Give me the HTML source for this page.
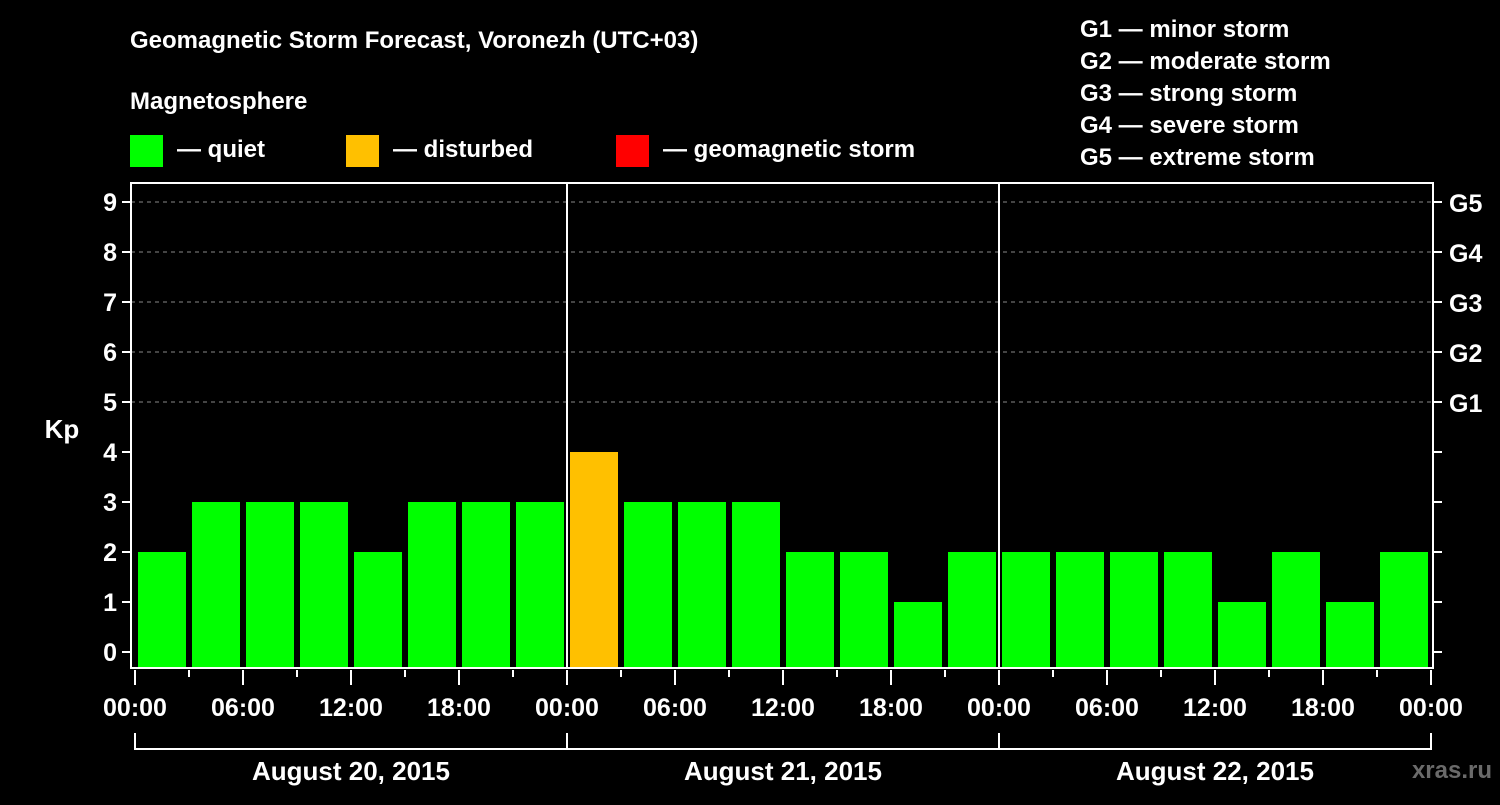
<!DOCTYPE html>
<html><head><meta charset="utf-8"><style>
body{margin:0;background:#000;width:1500px;height:800px;overflow:hidden}
svg text{font-family:"Liberation Sans",sans-serif;font-weight:bold;fill:#fff}
</style></head><body>
<svg id="c" width="1500" height="800" xmlns="http://www.w3.org/2000/svg">
<text x="130" y="48" font-size="24">Geomagnetic Storm Forecast, Voronezh (UTC+03)</text>
<text x="130" y="109" font-size="24">Magnetosphere</text>
<rect x="130" y="135" width="33" height="32" fill="#00ff00"/>
<text x="177" y="157" font-size="24">— quiet</text>
<rect x="346" y="135" width="33" height="32" fill="#ffc000"/>
<text x="393" y="157" font-size="24">— disturbed</text>
<rect x="616" y="135" width="33" height="32" fill="#ff0000"/>
<text x="663" y="157" font-size="24">— geomagnetic storm</text>
<g font-size="24">
<text x="1080" y="37">G1 — minor storm</text>
<text x="1080" y="69">G2 — moderate storm</text>
<text x="1080" y="101">G3 — strong storm</text>
<text x="1080" y="133">G4 — severe storm</text>
<text x="1080" y="165">G5 — extreme storm</text>
</g>
<text x="62" y="438" font-size="26" text-anchor="middle">Kp</text>
<text x="1492" y="778" font-size="24" text-anchor="end" fill="#666" style="fill:#6a6a6a">xras.ru</text>
<g id="g"></g>
</svg>
<script>
const values=[2,3,3,3,2,3,3,3,4,3,3,3,2,2,1,2,2,2,2,2,1,2,1,2];
const yTicks=[0,1,2,3,4,5,6,7,8,9];
const gLabels=["G1","G2","G3","G4","G5"];
const xLabels=["00:00","06:00","12:00","18:00","00:00","06:00","12:00","18:00","00:00","06:00","12:00","18:00","00:00"];
const days=["August 20, 2015","August 21, 2015","August 22, 2015"];
const NS="http://www.w3.org/2000/svg",g=document.getElementById('g');
const L=131,R=1433,T=183,B=668,x0=135,step=54;
const y=v=>652-v*50, x=i=>x0+i*step;
function mk(t,a,txt){const e=document.createElementNS(NS,t);for(const k in a)e.setAttribute(k,a[k]);if(txt!=null)e.textContent=txt;g.appendChild(e);return e;}
yTicks.forEach(v=>{
 if(v>=5){const e=mk('line',{x1:L,x2:R,y1:y(v),y2:y(v),stroke:'#888','stroke-dasharray':'4,4'});
 
 }
 const t1=mk('line',{x1:L-9,x2:L,y1:y(v),y2:y(v),stroke:'#fff','stroke-width':2});
 
 
 const t2=mk('line',{x1:R,x2:R+9,y1:y(v),y2:y(v),stroke:'#fff','stroke-width':2});
 
 
 const l=mk('text',{x:L-14,y:y(v)+9,'font-size':25,'text-anchor':'end'},v);
 
 
});
gLabels.forEach((s,i)=>{const l=mk('text',{x:1449,y:y(5+i)+10,'font-size':25},s);
 
 });
values.forEach((v,i)=>{const c=v>=5?'#ff0000':v>=4?'#ffc000':'#00ff00';
 const r=mk('rect',{x:x(i)+3,width:48,y:y(v),height:B-y(v),fill:c});
 
 });
[8,16].forEach(i=>{const e=mk('line',{x1:x(i),x2:x(i),y1:T,y2:B,stroke:'#fff','stroke-width':2});
 
 });
const f=mk('rect',{x:L,y:T,width:R-L,height:B-T,fill:'none',stroke:'#fff','stroke-width':2});


for(let i=0;i<=24;i++){const maj=i%2==0;
 const t=mk('line',{x1:x(i),x2:x(i),y1:670,y2:maj?685:677,stroke:'#fff','stroke-width':2});
 
 }
xLabels.forEach((s,i)=>{const l=mk('text',{x:x(i*2),y:716,'font-size':25,'text-anchor':'middle'},s);
 
 });
const br=mk('path',{d:`M${x(0)},733V749H${x(24)}V733M${x(8)},733V749M${x(16)},733V749`,stroke:'#fff','stroke-width':2,fill:'none'});


days.forEach((s,i)=>{const l=mk('text',{x:(x(i*8)+x(i*8+8))/2,y:780,'font-size':26,'text-anchor':'middle'},s);
 
 });
</script>
</body></html>
